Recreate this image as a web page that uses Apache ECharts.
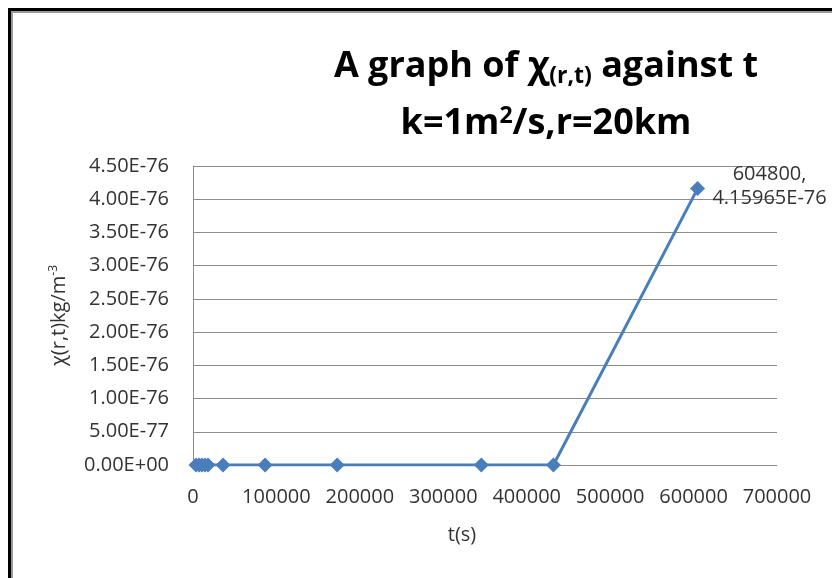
<!DOCTYPE html>
<html>
<head>
<meta charset="utf-8">
<script src="https://cdn.jsdelivr.net/npm/echarts@6/dist/echarts.min.js"></script>
<style>
  html, body { margin: 0; padding: 0; background: #fff; }
  #chart { width: 832px; height: 578px; }
</style>
</head>
<body>
<div id="chart"></div>
<script>
// time in seconds
const times = [3600, 7200, 10800, 14400, 18000, 36000, 86400, 172800, 345600, 432000, 604800]
// concentration chi(r,t) in kg/m^3
const chiValues = [0, 0, 0, 0, 0, 0, 0, 0, 0, 0, 4.15965e-76]
const xTicks = [0, 100000, 200000, 300000, 400000, 500000, 600000, 700000]
const yTicks = [0, 5e-77, 1e-76, 1.5e-76, 2e-76, 2.5e-76, 3e-76, 3.5e-76, 4e-76, 4.5e-76]

// echarts rounds ticks to 20 decimals, so plot in units of 1e-76
const SCALE = 1e76

const fmtExp = (v) => {
  if (Math.abs(v) < 1e-200) return '0.00E+00'
  const [m, e] = v.toExponential(2).split('e')
  const n = parseInt(e, 10)
  const sign = n < 0 ? '-' : '+'
  return m + 'E' + sign + String(Math.abs(n)).padStart(2, '0')
}

const font = '"Open Sans", "DejaVu Sans", sans-serif'
const chart = echarts.init(document.getElementById('chart'))

chart.setOption({
  animation: false,
  backgroundColor: '#fff',
  graphic: [
    {
      type: 'rect',
      shape: { x: 9.5, y: 9.5, width: 900, height: 700 },
      style: { fill: 'none', stroke: '#000', lineWidth: 3 }
    },
    {
      type: 'rect',
      shape: { x: 12, y: 12, width: 900, height: 700 },
      style: { fill: 'none', stroke: '#9a9a9a', lineWidth: 2 }
    }
  ],
  title: {
    text: '{a|A graph of χ}{s|(r,t)}{a| against t}\n{a|k=1m}{p|2}{a|/s,r=20km}',
    left: 541,
    top: 33,
    textAlign: 'center',
    textStyle: {
      fontFamily: font,
      rich: {
        a: { fontSize: 36, fontWeight: 'bold', color: '#000', fontFamily: font, lineHeight: 57 },
        s: { fontSize: 23, fontWeight: 'bold', color: '#000', fontFamily: font, padding: [20, 0, 0, 0] },
        p: { fontSize: 23, fontWeight: 'bold', color: '#000', fontFamily: font, padding: [0, 0, 15, 0] }
      }
    }
  },
  grid: {
    left: 193,
    right: 55,
    top: 166,
    bottom: 113
  },
  xAxis: {
    type: 'value',
    min: xTicks[0],
    max: xTicks[xTicks.length - 1],
    interval: xTicks[1] - xTicks[0],
    name: 't(s)',
    nameLocation: 'middle',
    nameGap: 60,
    nameTextStyle: { fontSize: 20, color: '#333', fontFamily: font, padding: [0, 46, 0, 0] },
    axisLine: { show: true, lineStyle: { color: '#8c8c8c', width: 1 } },
    axisTick: { show: false },
    splitLine: { show: false },
    axisLabel: { fontSize: 20, color: '#333', fontFamily: font, margin: 22, formatter: (v) => String(v) }
  },
  yAxis: {
    type: 'value',
    min: yTicks[0] * SCALE,
    max: yTicks[yTicks.length - 1] * SCALE,
    interval: (yTicks[1] - yTicks[0]) * SCALE,
    name: '{a|χ(r,t)kg/m}{p|-3}',
    nameLocation: 'middle',
    nameRotate: 90,
    nameGap: 122,
    nameTextStyle: {
      rich: {
        a: { fontSize: 20, color: '#333', fontFamily: font },
        p: { fontSize: 12, color: '#333', fontFamily: font, padding: [0, 0, 11, 0] }
      }
    },
    axisLine: { show: true, lineStyle: { color: '#8c8c8c', width: 1 } },
    axisTick: { show: false },
    splitLine: { show: true, lineStyle: { color: '#8c8c8c', width: 1 } },
    axisLabel: {
      fontSize: 20,
      color: '#333',
      fontFamily: font,
      margin: 24,
      formatter: (v) => fmtExp(v / SCALE)
    }
  },
  series: [
    {
      type: 'line',
      data: times.map((t, i) => [t, chiValues[i] * SCALE]),
      symbol: 'diamond',
      symbolSize: 15,
      showAllSymbol: true,
      itemStyle: { color: '#4a7ebb' },
      lineStyle: { color: '#4a7ebb', width: 3 },
      label: {
        show: true,
        position: 'inside',
        offset: [72, -2],
        align: 'center',
        lineHeight: 24,
        fontSize: 20,
        color: '#333',
        fontFamily: font,
        formatter: (p) => p.dataIndex === times.length - 1
          ? times[p.dataIndex] + ',\n' + String(chiValues[p.dataIndex]).toUpperCase()
          : ''
      }
    }
  ]
})
</script>
</body>
</html>
